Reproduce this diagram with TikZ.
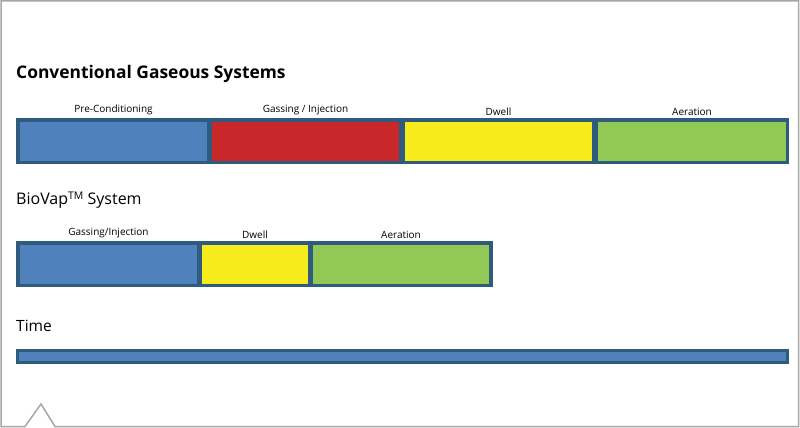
\documentclass[tikz,border=0pt]{standalone}
\usepackage{fontspec}
\setmainfont{Open Sans}
\usepackage{tikz}
\usetikzlibrary{positioning}

\definecolor{edgeblue}{HTML}{2F5B7E}
\definecolor{phaseblue}{HTML}{4F81BD}
\definecolor{phasered}{HTML}{C9282A}
\definecolor{phaseyellow}{HTML}{F7EC1B}
\definecolor{phasegreen}{HTML}{92C954}
\definecolor{framegray}{HTML}{A6A6A6}

\tikzset{
  bar/.style={fill=edgeblue, inner sep=0pt, outer sep=0pt, minimum height=46pt},
  phase/.style={inner sep=0pt, outer sep=0pt, minimum height=39pt},
  phaselabel/.style={font=\fontsize{10}{12}\selectfont, inner sep=0pt, above=6.5pt},
  heading/.style={anchor=base west, inner sep=0pt}
}

\begin{document}
\begin{tikzpicture}[x=1pt, y=-1pt]
    \useasboundingbox (0, 0) rectangle (800, 428);
\draw[framegray, line width=1.5pt] (1, 1) -- (798.5, 1) -- (798.5, 426.5) -- (55, 426.5) -- (41, 404) -- (25, 426.5) -- (1, 426.5) -- cycle ; % Frame 
\node[heading, font=\bfseries\fontsize{17.4}{20}\selectfont] (convtitle) at (16, 78.5) {Conventional Gaseous Systems}; % Title.0 
\node[bar, minimum width=773pt] (convbar) at (402.5, 141) {}; % Bar.0 
\node[phase, fill=phaseblue, minimum width=187pt] (precond) at (113.5, 141.5) {}; % Phase.0 
\node[phase, fill=phasered, minimum width=187pt] (gassing) at (305.5, 141.5) {}; % Phase.1 
\node[phase, fill=phaseyellow, minimum width=187pt] (dwell) at (498.5, 141.5) {}; % Phase.2 
\node[phase, fill=phasegreen, minimum width=188pt] (aeration) at (692, 141.5) {}; % Phase.3 
\node[phaselabel] at (precond.north) {Pre-Conditioning}; % Phase.0 
\node[phaselabel] at (gassing.north) {Gassing / Injection}; % Phase.1 
\node[phaselabel] at (dwell.north) {Dwell}; % Phase.2 
\node[phaselabel] at (aeration.north) {Aeration}; % Phase.3 
\node[heading, font=\fontsize{16}{19}\selectfont] (biotitle) at (16, 204) {BioVap\raisebox{4.5pt}{\fontsize{10.5}{12}\selectfont TM} System}; % Title.1 
\node[bar, minimum width=477pt] (biobar) at (254.5, 264) {}; % Bar.1 
\node[phase, fill=phaseblue, minimum width=177pt] (biogassing) at (108.5, 264.5) {}; % Phase.4 
\node[phase, fill=phaseyellow, minimum width=106pt] (biodwell) at (255, 264.5) {}; % Phase.5 
\node[phase, fill=phasegreen, minimum width=176pt] (bioaeration) at (401, 264.5) {}; % Phase.6 
\node[phaselabel] at (biogassing.north) {Gassing/Injection}; % Phase.4 
\node[phaselabel] at (biodwell.north) {Dwell}; % Phase.5 
\node[phaselabel] at (bioaeration.north) {Aeration}; % Phase.6 
\node[heading, font=\fontsize{15.5}{18}\selectfont] (timetitle) at (16, 331) {Time}; % Title.2 
\node[bar, minimum width=773pt, minimum height=15pt] (timebar) at (402.5, 356.5) {}; % Bar.2 
\node[phase, fill=phaseblue, minimum width=767pt, minimum height=9pt] (timespan) at (402.5, 356.5) {}; % Phase.7 

    \end{tikzpicture}
\end{document}
